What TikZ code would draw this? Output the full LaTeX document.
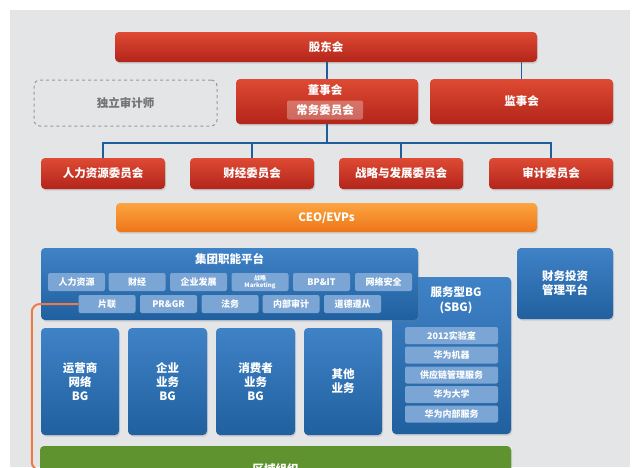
\documentclass[tikz,border=0pt]{standalone}
\usepackage{fontspec}
\setmainfont{Noto Sans CJK SC}
\usetikzlibrary{shadows}
\definecolor{bgGray}{HTML}{E4E5E7}
\definecolor{redTop}{HTML}{DE4A33}
\definecolor{redBot}{HTML}{B3241A}
\definecolor{blueTop}{HTML}{3F82C6}
\definecolor{blueBot}{HTML}{20609F}
\definecolor{pillBlue}{HTML}{7AA5D4}
\definecolor{orgTop}{HTML}{FBA540}
\definecolor{orgBot}{HTML}{EE7518}
\definecolor{lineBlue}{HTML}{1F5E9E}
\definecolor{feedOrange}{HTML}{EE7A45}
\definecolor{greenBar}{HTML}{5E9330}

\begin{document}
\begin{tikzpicture}[
    x=1pt, y=-1pt,
    box/.style={rectangle, rounded corners=4pt, inner sep=0pt, font=\bfseries\fontsize{11.5}{14}\selectfont, text=white, align=center, drop shadow={opacity=0.25, shadow xshift=1pt, shadow yshift=-1.5pt}},
    board/.style={box, top color=redTop, bottom color=redBot},
    exec/.style={box, top color=orgTop, bottom color=orgBot},
    unit/.style={box, top color=blueTop, bottom color=blueBot},
    title/.style={text=white, font=\bfseries\fontsize{11.5}{14}\selectfont, align=center},
    pill/.style={rectangle, rounded corners=2pt, inner sep=0pt, fill=pillBlue, text=white, font=\bfseries\fontsize{9}{10}\selectfont, align=center, minimum width=57pt, minimum height=18pt},
    subpill/.style={pill, minimum width=93pt, minimum height=17pt},
    link/.style={draw=lineBlue, line width=1.6pt},
    feed/.style={draw=feedOrange, line width=2pt, rounded corners=8pt}
]
\clip (0,0) rectangle (640,467);
\fill[white] (0,0) rectangle (640,467);
\fill[bgGray] (10,10) rectangle (630,467);

% Governance
\node[board, minimum width=422pt, minimum height=30pt] (gdh) at (326,47) {股东会};
\node[board, minimum width=182pt, minimum height=45pt] (dsh) at (327,101.5) {};
\node[title] (dshTitle) at (325,90) {董事会};
\node[rectangle, rounded corners=2pt, fill=white, fill opacity=0.3, text opacity=1, text=white, font=\bfseries\fontsize{11.5}{14}\selectfont, minimum width=76pt, minimum height=19pt, inner sep=0pt] (cwwyh) at (325,110) {常务委员会};
\node[board, minimum width=183pt, minimum height=45pt] (jsh) at (521.5,101.5) {监事会};
\node[rectangle, rounded corners=6pt, draw=gray!80, dashed, line width=1pt, text=gray!90!black, font=\bfseries\fontsize{11.5}{14}\selectfont, minimum width=183pt, minimum height=46pt] (sjs) at (125.5,103) {独立审计师};

% Committees
\node[board, minimum width=124pt, minimum height=31pt] (hr) at (103,173.5) {人力资源委员会};
\node[board, minimum width=124pt, minimum height=31pt] (cj) at (252,173.5) {财经委员会};
\node[board, minimum width=124pt, minimum height=31pt] (zl) at (401,173.5) {战略与发展委员会};
\node[board, minimum width=124pt, minimum height=31pt] (sj) at (551,173.5) {审计委员会};

\node[exec, minimum width=421pt, minimum height=29pt] (ceo) at (326.5,217.5) {CEO/EVPs};

% Connectors
\coordinate (bus) at (327,143);
\draw[link] (gdh.south -| dsh) -- (dsh.north);
\draw[link] (gdh.south -| jsh) -- (jsh.north);
\draw[link] (dsh.south) -- (bus);
\draw[link] (hr.north) |- (bus) -| (sj.north);
\draw[link] (cj.north) -- (cj.north |- bus);
\draw[link] (zl.north) -- (zl.north |- bus);

% Service BG
\node[unit, minimum width=119pt, minimum height=157pt] (sbg) at (451.5,355.5) {};
\node[title, font=\bfseries\fontsize{11.5}{15}\selectfont] (sbgTitle) at (456,300) {服务型BG\\(SBG)};
\node[subpill] (lab) at (451.5,335.5) {2012实验室};
\node[subpill] (jq) at (451.5,355) {华为机器};
\node[subpill] (gyl) at (451.5,375) {供应链管理服务};
\node[subpill] (dx) at (451.5,394.5) {华为大学};
\node[subpill] (nbfw) at (451.5,414) {华为内部服务};

% Group functions
\node[unit, minimum width=377pt, minimum height=72pt] (jt) at (229.5,284) {};
\node[title] (jtTitle) at (229.5,259) {集团职能平台};
\node[pill] (rl) at (76.5,282) {人力资源};
\node[pill] (cjp) at (137,282) {财经};
\node[pill] (qy) at (198.5,282) {企业发展};
\node[pill, font=\bfseries\fontsize{6}{6.5}\selectfont] (mk) at (260,282) {战略\\Marketing};
\node[pill] (bp) at (321.5,282) {BP\&IT};
\node[pill] (wl) at (383.5,282) {网络安全};
\node[pill] (pl) at (107,304) {片联};
\node[pill] (pr) at (168.5,304) {PR\&GR};
\node[pill] (fw) at (230,304) {法务};
\node[pill] (nb) at (291,304) {内部审计};
\node[pill] (dd) at (352.5,304) {道德遵从};

\node[unit, minimum width=96pt, minimum height=71pt] (cw) at (565,283.5) {财务投资\\管理平台};

% Business groups
\node[unit, minimum width=78pt, minimum height=107pt] (yys) at (80,381.5) {运营商\\网络\\BG};
\node[unit, minimum width=79pt, minimum height=107pt] (qyyw) at (167.5,381.5) {企业\\业务\\BG};
\node[unit, minimum width=79pt, minimum height=107pt] (xfz) at (255.5,381.5) {消费者\\业务\\BG};
\node[unit, minimum width=78pt, minimum height=107pt] (qt) at (343,381.5) {其他\\业务};

% Regions
\node[box, fill=greenBar, minimum width=471pt, minimum height=48pt] (qu) at (275.5,470) {};
\node[title] (quTitle) at (275.5,469) {区域组织};
\draw[feed] (pl.west) -| ([xshift=-8pt]qu.west) -- (qu.west);
\end{tikzpicture}
\end{document}
